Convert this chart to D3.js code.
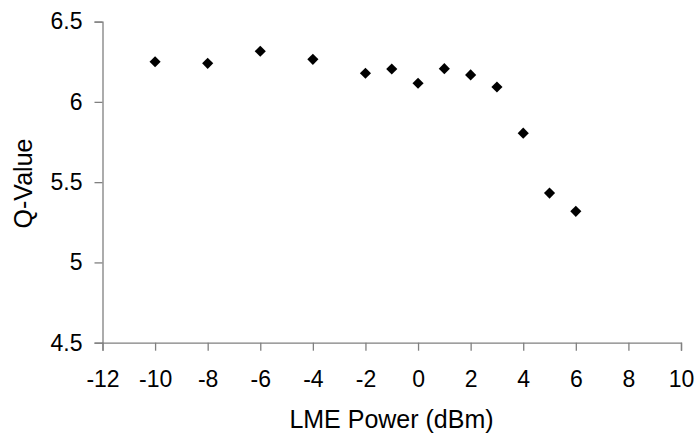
<!DOCTYPE html>
<html>
<head>
<meta charset="utf-8">
<script src="https://cdn.jsdelivr.net/npm/d3@7/dist/d3.min.js"></script>
<style>
  html, body { margin: 0; padding: 0; background: #fff; }
  svg { display: block; }
  text { font-family: "Liberation Sans", Arial, sans-serif; fill: #000; }
</style>
</head>
<body>
<svg id="chart" width="696" height="435"></svg>
<script>
const powers = [-10, -8, -6, -4, -2, -1, 0, 1, 2, 3, 4, 5, 6];
const qValues = [6.25, 6.24, 6.315, 6.265, 6.178, 6.205, 6.116, 6.207, 6.168, 6.093, 5.805, 5.432, 5.318];
const xTicks = [-12, -10, -8, -6, -4, -2, 0, 2, 4, 6, 8, 10];
const yTicks = [4.5, 5, 5.5, 6, 6.5];
const xTitle = "LME Power (dBm)";
const yTitle = "Q-Value";

(function () {
const svg = d3.select("#chart");
const mLeft = 102.5, mRight = 681, mTop = 21.6, mBottom = 342.7;

const x = d3.scaleLinear().domain([-12, 10]).range([mLeft, mRight]);
const y = d3.scaleLinear().domain([4.5, 6.5]).range([mBottom, mTop]);

const axisColor = "#808080";

const gx = svg.append("g")
  .attr("transform", `translate(0,${mBottom})`)
  .call(d3.axisBottom(x).tickValues(xTicks).tickSize(8).tickPadding(20).tickFormat(d => String(d)));
const gy = svg.append("g")
  .attr("transform", `translate(${mLeft},0)`)
  .call(d3.axisLeft(y).tickValues(yTicks).tickSize(8).tickPadding(12).tickFormat(d => String(d)));

[gx, gy].forEach(g => {
  g.select(".domain").attr("stroke", axisColor).attr("stroke-width", 1.3);
  g.selectAll(".tick line").attr("stroke", axisColor).attr("stroke-width", 1.3);
  g.selectAll(".tick text").attr("font-size", 23).attr("font-family", "Liberation Sans, Arial, sans-serif").attr("fill", "#000");
});

const diamond = d3.symbol().type(d3.symbolSquare).size(62);
svg.append("g").selectAll("path")
  .data(powers.map((p, i) => ({p, q: qValues[i]})))
  .join("path")
  .attr("d", diamond)
  .attr("transform", d => `translate(${x(d.p)},${y(d.q)}) rotate(45)`)
  .attr("fill", "#000");

svg.append("text")
  .attr("x", 391.5).attr("y", 428)
  .attr("text-anchor", "middle")
  .attr("font-size", 25)
  .text(xTitle);

svg.append("text")
  .attr("transform", `translate(32,183.5) rotate(-90)`)
  .attr("text-anchor", "middle")
  .attr("font-size", 25)
  .text(yTitle);
})();
</script>
</body>
</html>
